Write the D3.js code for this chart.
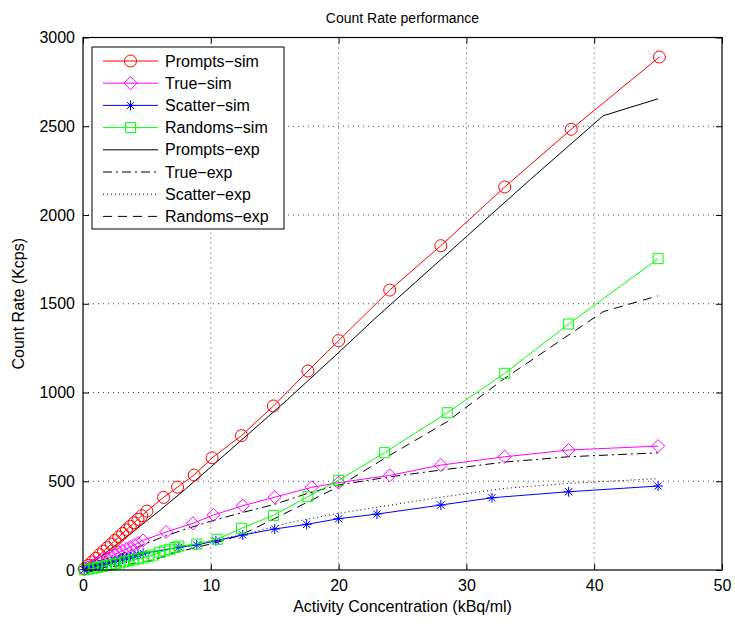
<!DOCTYPE html>
<html>
<head>
<meta charset="utf-8">
<script src="https://cdn.jsdelivr.net/npm/d3@7"></script>
<style>
  html, body { margin: 0; padding: 0; background: #fff; }
  svg { display: block; font-family: "Liberation Sans", Arial, Helvetica, sans-serif; }
</style>
</head>
<body>
<svg id="chart" width="735" height="624"></svg>
<script>
// Simulated count rates (x: activity concentration kBq/ml, y: Kcps)
const promptsSimX = [0.1,0.4,0.7,1.0,1.3,1.6,1.9,2.2,2.5,2.8,3.1,3.4,3.7,4.0,4.3,4.6,5.0,6.3,7.4,8.7,10.1,12.4,14.9,17.6,20,24,28,33,38.2,45.1];
const promptsSimY = [6,26,46,66,86,106,126,146,166,186,206,226,246,266,286,306,332,409,467,535,632,757,924,1121,1292,1577,1827,2158,2483,2890];

const trueSimX = [0.1,0.4,0.7,1.0,1.3,1.6,1.9,2.2,2.5,2.8,3.1,3.4,3.7,4.0,4.3,4.7,6.5,8.6,10.2,12.5,15,17.9,20,24,28,33,38,45];
const trueSimY = [4,14,25,36,46,57,67,78,88,99,109,120,130,141,151,167,214,263,310,362,410,466,492,533,591,638,676,698];

const scatterSimX = [0.1,0.4,0.7,1.0,1.3,1.6,1.9,2.2,2.5,2.8,3.1,3.4,3.7,4.0,4.3,4.7,7.5,8.9,10.4,12.5,15,17.5,20,23,28,32,38,45];
const scatterSimY = [2,8,14,20,26,32,38,44,50,56,62,68,74,80,86,94,128,141,165,197,231,257,289,315,366,407,441,473];

const randomsSimX = [0.1,0.45,0.8,1.15,1.5,1.85,2.2,2.55,2.9,3.25,3.6,3.95,4.3,4.7,5.1,5.5,6.0,6.4,6.8,7.2,7.5,8.9,10.5,12.4,14.9,17.6,20,23.6,28.5,33,38,45];
const randomsSimY = [1,5,10,15,20,25,30,35,40,46,52,57,63,68,76,84,100,108,117,127,135,146,173,235,308,413,505,661,886,1108,1386,1754];

// Measured count rates
const promptsExpX = [0,2,4,6,8,10,13,16,20,23,26,30,35,40.7,45];
const promptsExpY = [0,110,220,335,455,580,770,960,1225,1427,1620,1878,2200,2559,2655];

const trueExpX = [0,2,4,6,8,10,12,15,17.5,20,24,28,33,38,45];
const trueExpY = [0,60,120,180,230,275,315,370,430,479,525,563,608,638,660];

const scatterExpX = [0,3,6,9,13,16,20,24,28,33,38,45];
const scatterExpY = [0,55,105,150,207,265,319,365,410,460,488,515];

const randomsExpX = [0,3,5.5,7,10.5,12.3,15,17.5,20,23.6,28.5,33,38,40.7,45];
const randomsExpY = [0,25,56,94,156,195,290,380,470,629,836,1080,1324,1455,1545];

const xTicks = [0,10,20,30,40,50];
const yTicks = [0,500,1000,1500,2000,2500,3000];

const titleText = "Count Rate performance";
const xLabel = "Activity Concentration (kBq/ml)";
const yLabel = "Count Rate (Kcps)";

const series = [
  { name: "Prompts\u2212sim", x: promptsSimX, y: promptsSimY, color: "#ff0000", marker: "circle", dash: null },
  { name: "True\u2212sim", x: trueSimX, y: trueSimY, color: "#ff00ff", marker: "diamond", dash: null },
  { name: "Scatter\u2212sim", x: scatterSimX, y: scatterSimY, color: "#0000ff", marker: "star", dash: null },
  { name: "Randoms\u2212sim", x: randomsSimX, y: randomsSimY, color: "#00ff00", marker: "square", dash: null },
  { name: "Prompts\u2212exp", x: promptsExpX, y: promptsExpY, color: "#000000", marker: null, dash: null },
  { name: "True\u2212exp", x: trueExpX, y: trueExpY, color: "#000000", marker: null, dash: "9,4,2,4" },
  { name: "Scatter\u2212exp", x: scatterExpX, y: scatterExpY, color: "#000000", marker: null, dash: "1,3" },
  { name: "Randoms\u2212exp", x: randomsExpX, y: randomsExpY, color: "#000000", marker: null, dash: "9,6" }
];

const svg = d3.select("#chart");
const m = { left: 83, right: 722, top: 37.5, bottom: 570 };

const x = d3.scaleLinear().domain([0, 50]).range([m.left, m.right]);
const y = d3.scaleLinear().domain([0, 3000]).range([m.bottom, m.top]);

// dotted grid
const grid = svg.append("g").attr("stroke", "#000").attr("stroke-width", 0.9)
  .attr("stroke-dasharray", "1,4").attr("opacity", 0.8);
xTicks.slice(1, -1).forEach(t => {
  grid.append("line").attr("x1", x(t)).attr("x2", x(t)).attr("y1", m.top).attr("y2", m.bottom);
});
yTicks.slice(1, -1).forEach(t => {
  grid.append("line").attr("x1", m.left).attr("x2", m.right).attr("y1", y(t)).attr("y2", y(t));
});

// axes with inward ticks
const tickLen = 6;
const fmt = d3.format("d");
const axB = svg.append("g").attr("transform", `translate(0,${m.bottom})`)
  .call(d3.axisBottom(x).tickValues(xTicks).tickFormat(fmt).tickSizeInner(-tickLen).tickSizeOuter(0).tickPadding(10));
const axT = svg.append("g").attr("transform", `translate(0,${m.top})`)
  .call(d3.axisTop(x).tickValues(xTicks).tickSizeInner(-tickLen).tickSizeOuter(0).tickFormat(""));
const axL = svg.append("g").attr("transform", `translate(${m.left},0)`)
  .call(d3.axisLeft(y).tickValues(yTicks).tickFormat(fmt).tickSizeInner(-tickLen).tickSizeOuter(0).tickPadding(8));
const axR = svg.append("g").attr("transform", `translate(${m.right},0)`)
  .call(d3.axisRight(y).tickValues(yTicks).tickSizeInner(-tickLen).tickSizeOuter(0).tickFormat(""));
[axB, axT, axL, axR].forEach(a => {
  a.select(".domain").remove();
  a.selectAll("line").attr("stroke", "#000");
  a.selectAll("text").attr("font-size", 16).attr("fill", "#000")
    .attr("font-family", "'Liberation Sans', Arial, sans-serif");
});

const line = d3.line().x(d => x(d[0])).y(d => y(d[1]));

const markerPath = {
  circle: () => d3.symbol().type(d3.symbolCircle).size(Math.PI * 36)(),
  diamond: () => "M0,-6.5L6.5,0L0,6.5L-6.5,0Z",
  square: () => "M-5,-5H5V5H-5Z",
  star: () => "M-5,0H5M0,-5V5M-3.6,-3.6L3.6,3.6M-3.6,3.6L3.6,-3.6"
};

const plot = svg.append("g");
// experimental lines first, simulation lines with markers on top
const order = [4, 5, 6, 7, 0, 1, 2, 3];
order.forEach(i => {
  const s = series[i];
  const pts = s.x.map((v, j) => [v, s.y[j]]);
  plot.append("path").datum(pts).attr("d", line)
    .attr("fill", "none").attr("stroke", s.color).attr("stroke-width", 1)
    .attr("stroke-dasharray", s.dash);
  if (s.marker) {
    plot.append("g").selectAll("path").data(pts).join("path")
      .attr("transform", d => `translate(${x(d[0])},${y(d[1])})`)
      .attr("d", markerPath[s.marker]())
      .attr("fill", "none").attr("stroke", s.color).attr("stroke-width", 1);
  }
});

// axes box
svg.append("rect").attr("x", m.left).attr("y", m.top)
  .attr("width", m.right - m.left).attr("height", m.bottom - m.top)
  .attr("fill", "none").attr("stroke", "#000").attr("stroke-width", 1.2);

// legend
const lg = svg.append("g");
const lgX = 92, lgY = 47, lgW = 192, lgH = 182, rowH = 22.2;
lg.append("rect").attr("x", lgX).attr("y", lgY).attr("width", lgW).attr("height", lgH)
  .attr("fill", "#fff").attr("stroke", "#000").attr("stroke-width", 1);
series.forEach((s, i) => {
  const cy = lgY + 14 + i * rowH;
  lg.append("line").attr("x1", 103).attr("x2", 158).attr("y1", cy).attr("y2", cy)
    .attr("stroke", s.color).attr("stroke-width", 1).attr("stroke-dasharray", s.dash);
  if (s.marker) {
    lg.append("path").attr("transform", `translate(130.5,${cy})`).attr("d", markerPath[s.marker]())
      .attr("fill", "none").attr("stroke", s.color).attr("stroke-width", 1);
  }
  lg.append("text").attr("x", 165).attr("y", cy).attr("dy", "0.35em")
    .attr("font-size", 16).text(s.name);
});

// title and labels
svg.append("text").attr("x", (m.left + m.right) / 2).attr("y", 23)
  .attr("text-anchor", "middle").attr("font-size", 14).text(titleText);
svg.append("text").attr("x", (m.left + m.right) / 2).attr("y", 612)
  .attr("text-anchor", "middle").attr("font-size", 16).text(xLabel);
svg.append("text").attr("transform", `translate(24,${(m.top + m.bottom) / 2}) rotate(-90)`)
  .attr("text-anchor", "middle").attr("font-size", 16).text(yLabel);
</script>
</body>
</html>
